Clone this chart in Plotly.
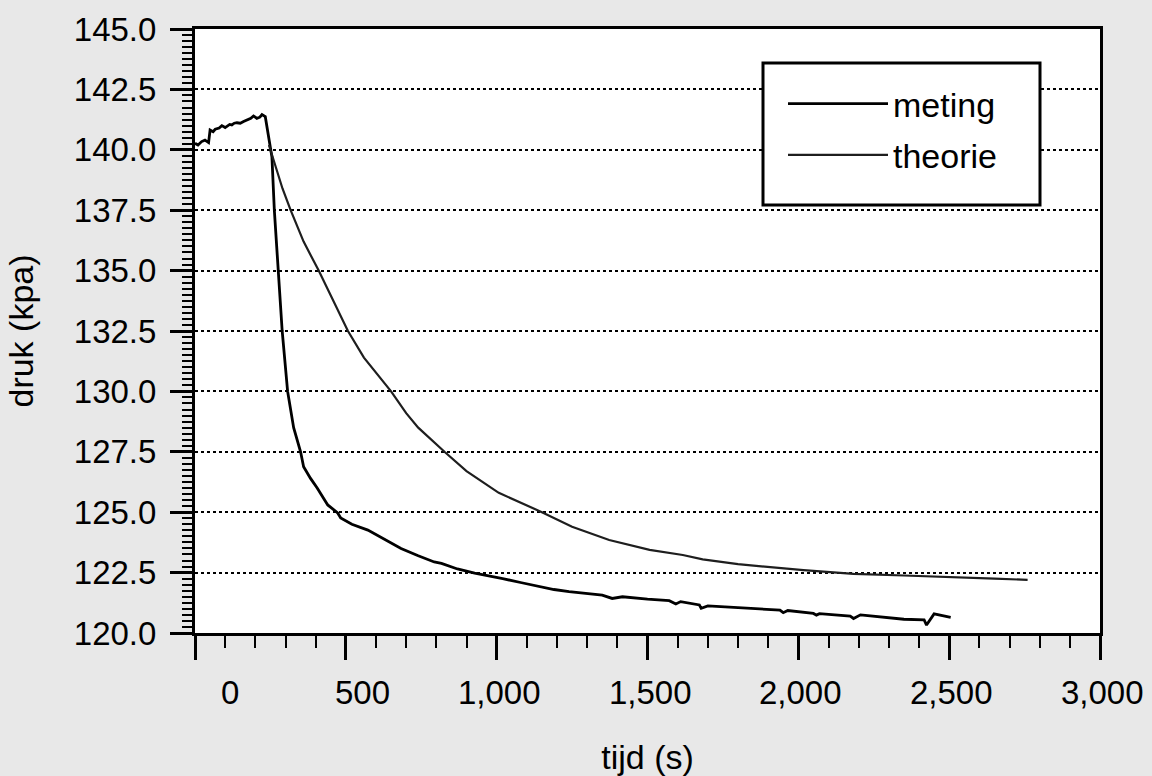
import plotly.graph_objects as go

# ---- data ----
t_meting = [0, 10, 22, 33, 45, 50, 60, 67, 80, 89, 100, 105, 115, 122, 130, 139, 150, 161,
            175, 185, 194, 205, 215, 222, 233, 244, 255, 263, 277, 289, 307, 327, 350, 360,
            383, 405, 440, 473, 483, 520, 573, 630, 683, 740, 793, 817, 870, 927, 950, 1020,
            1083, 1140, 1190, 1240, 1300, 1350, 1383, 1417, 1500, 1572, 1594, 1610, 1672, 1678,
            1700, 1794, 1939, 1950, 1965, 2050, 2060, 2070, 2172, 2183, 2206, 2350, 2417, 2425,
            2450, 2505]
p_meting = [140.27, 140.2, 140.34, 140.4, 140.3, 140.82, 140.75, 140.85, 140.9, 141.0, 140.92,
            140.96, 141.05, 141.03, 141.1, 141.12, 141.1, 141.17, 141.25, 141.3, 141.4, 141.3,
            141.35, 141.46, 141.37, 140.54, 139.7, 137.5, 135.0, 132.5, 130.0, 128.5, 127.5,
            126.88, 126.4, 126.0, 125.3, 124.97, 124.76, 124.5, 124.26, 123.85, 123.5, 123.2,
            122.94, 122.88, 122.65, 122.48, 122.43, 122.25, 122.08, 121.92, 121.8, 121.71,
            121.65, 121.57, 121.43, 121.5, 121.4, 121.34, 121.2, 121.3, 121.16, 121.02, 121.12,
            121.06, 120.95, 120.84, 120.93, 120.81, 120.74, 120.8, 120.7, 120.6, 120.75, 120.57,
            120.54, 120.33, 120.79, 120.65]

t_theorie = [245, 265, 290, 317, 360, 410, 460, 507, 560, 617, 650, 700, 740, 827, 900, 1007,
             1150, 1250, 1373, 1507, 1617, 1683, 1800, 2017, 2183, 2350, 2500, 2650, 2760]
p_theorie = [140.2, 139.4, 138.4, 137.5, 136.2, 135.0, 133.7, 132.5, 131.4, 130.5, 130.0, 129.1,
             128.5, 127.5, 126.7, 125.8, 125.0, 124.4, 123.85, 123.44, 123.23, 123.05, 122.85,
             122.6, 122.45, 122.38, 122.3, 122.25, 122.2]

x_tick_vals = [0, 500, 1000, 1500, 2000, 2500, 3000]
x_tick_text = ["0", "500", "1,000", "1,500", "2,000", "2,500", "3,000"]

FONT = "Liberation Sans, Arial, sans-serif"

fig = go.Figure()
fig.add_trace(go.Scatter(x=t_meting, y=p_meting, mode="lines", name="meting",
                         legendgroup="a", line=dict(color="black", width=2.8)))
fig.add_trace(go.Scatter(x=t_theorie, y=p_theorie, mode="lines", name="theorie",
                         legendgroup="b", line=dict(color="#1e1e1e", width=2.2)))

# x tick labels (right-aligned next to their ticks as in the scan)
for v, s in zip(x_tick_vals, x_tick_text):
    fig.add_annotation(x=v, y=-0.0977, xref="x", yref="paper", text=s, showarrow=False,
                       xanchor="right", yanchor="middle", xshift=46,
                       font=dict(family=FONT, size=33, color="black"))

# legend box
fig.add_shape(type="rect", xref="paper", yref="paper",
              x0=(763 - 195) / 905, x1=(1040 - 195) / 905,
              y0=(633 - 205) / 604, y1=(633 - 63) / 604,
              fillcolor="white", line=dict(color="black", width=3), layer="above")

fig.update_layout(
    width=1152, height=776,
    margin=dict(l=195, r=52, t=29, b=143, autoexpand=False),
    paper_bgcolor="#e8e8e8", plot_bgcolor="white",
    font=dict(family=FONT, size=33, color="black"),
    showlegend=True,
    legend=dict(x=(783 - 195) / 905, y=(633 - 75) / 604, xanchor="left", yanchor="top",
                bgcolor="rgba(0,0,0,0)", borderwidth=0, itemwidth=100,
                tracegroupgap=4, font=dict(family=FONT, size=34, color="black")),
    xaxis=dict(range=[0, 3000], showgrid=False, zeroline=False, showticklabels=False,
               tickvals=x_tick_vals, ticks="outside", ticklen=24, tickwidth=3, tickcolor="black",
               minor=dict(dtick=100, ticks="outside", ticklen=12, tickwidth=2, tickcolor="black",
                          showgrid=False),
               showline=True, linewidth=3, linecolor="black", mirror=True,
               title=dict(text="tijd (s)", standoff=93, font=dict(family=FONT, size=34)),
               automargin=False),
    yaxis=dict(range=[120, 145], dtick=2.5, tick0=120, tickformat=".1f",
               showgrid=True, gridcolor="black", gridwidth=2, griddash="dot", zeroline=False,
               ticks="outside", ticklen=22, tickwidth=3, tickcolor="black",
               ticklabelstandoff=7, tickfont=dict(family=FONT, size=33),
               minor=dict(dtick=0.25, ticks="outside", ticklen=10, tickwidth=2, tickcolor="black",
                          showgrid=False),
               showline=True, linewidth=3, linecolor="black", mirror=True,
               title=dict(text="druk (kpa)", standoff=30, font=dict(family=FONT, size=34)),
               automargin=False),
)

fig.write_html("out.html")
